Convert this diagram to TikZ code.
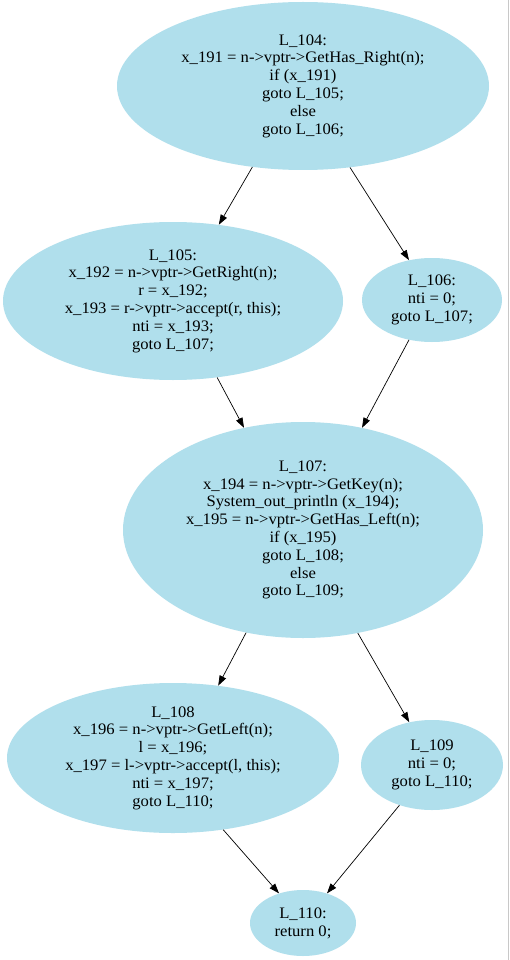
\documentclass[tikz,border=0pt]{standalone}
\usepackage{fontspec}
\setmainfont{Liberation Serif}[FakeStretch=1.04]
\usetikzlibrary{shapes.geometric,arrows.meta}
\definecolor{nodefill}{RGB}{176,223,236}
\definecolor{edgegray}{RGB}{200,200,200}
\tikzset{
  blk/.style={ellipse, fill=nodefill, draw=none, inner sep=0pt, align=center,
    font=\fontsize{16}{17.8}\selectfont},
  edge/.style={-{Triangle[length=10pt,width=7pt]}, line width=0.7pt, black}
}
\begin{document}
\begin{tikzpicture}[x=1pt,y=-1pt]
\useasboundingbox (0,0) rectangle (510,960);
\fill[white] (0,0) rectangle (510,960);
\draw[edgegray, line width=1pt] (508.5,0) -- (508.5,960);
\node[blk, minimum width=372pt, minimum height=168pt] (n104) at (303,86)
  {L\_104:\\x\_191 = n->vptr->GetHas\_Right(n);\\if (x\_191)\\goto L\_105;\\else\\goto L\_106;};
\node[blk, minimum width=340pt, minimum height=158pt] (n105) at (173,301)
  {L\_105:\\x\_192 = n->vptr->GetRight(n);\\r = x\_192;\\x\_193 = r->vptr->accept(r, this);\\nti = x\_193;\\goto L\_107;};
\node[blk, minimum width=140pt, minimum height=84pt] (n106) at (432,300)
  {L\_106:\\nti = 0;\\goto L\_107;};
\node[blk, minimum width=360pt, minimum height=216pt] (n107) at (303,530)
  {L\_107:\\x\_194 = n->vptr->GetKey(n);\\System\_out\_println (x\_194);\\x\_195 = n->vptr->GetHas\_Left(n);\\if (x\_195)\\goto L\_108;\\else\\goto L\_109;};
\node[blk, minimum width=332pt, minimum height=150pt] (n108) at (173,758)
  {L\_108\\x\_196 = n->vptr->GetLeft(n);\\l = x\_196;\\x\_197 = l->vptr->accept(l, this);\\nti = x\_197;\\goto L\_110;};
\node[blk, minimum width=142pt, minimum height=90pt] (n109) at (432,765)
  {L\_109\\nti = 0;\\goto L\_110;};
\node[blk, minimum width=106pt, minimum height=66pt] (n110) at (303,923)
  {L\_110:\\return 0;};
\draw[edge] (n104.238.6) -- (n105.59.4);
\draw[edge] (n104.300.9) -- (n106.120);
\draw[edge] (n105.300) -- (n107.120);
\draw[edge] (n106.240.7) -- (n107.60.8);
\draw[edge] (n107.241) -- (n108.58.7);
\draw[edge] (n107.298.5) -- (n109.118);
\draw[edge] (n108.305) -- (n110.129);
\draw[edge] (n109.231) -- (n110.51);
\end{tikzpicture}
\end{document}
